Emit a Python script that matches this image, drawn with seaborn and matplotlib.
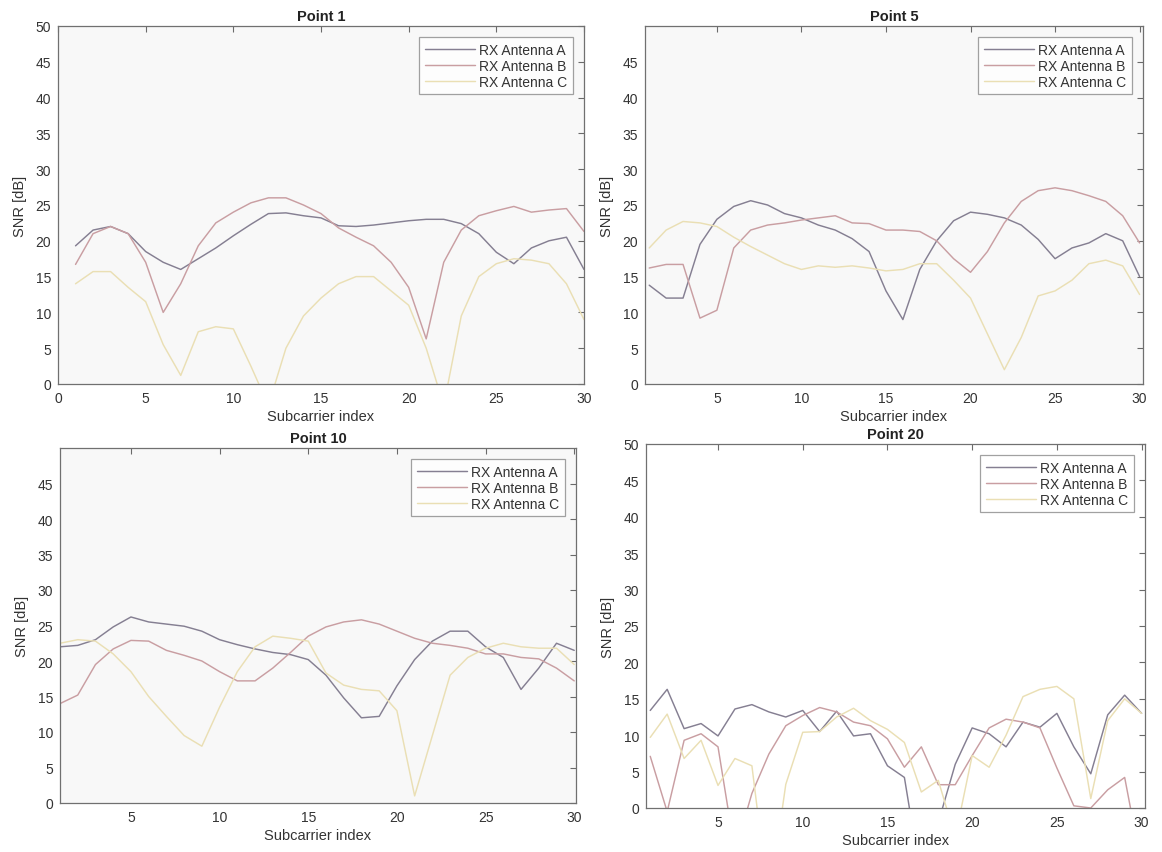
import numpy as np
import pandas as pd
import matplotlib
matplotlib.use("Agg")
import matplotlib.pyplot as plt
import seaborn as sns

# Subcarrier indices shared by every panel
subcarriers = list(range(1, 31))
antenna_labels = ["RX Antenna A", "RX Antenna B", "RX Antenna C"]

# SNR [dB] per antenna, measurement point 1
p1_a = [19.3, 21.5, 22.0, 21.0, 18.5, 17.0, 16.0, 17.5, 19.0, 20.7, 22.3, 23.8, 23.9, 23.5, 23.2,
        22.1, 22.0, 22.2, 22.5, 22.8, 23.0, 23.0, 22.4, 21.0, 18.4, 16.8, 19.0, 20.0, 20.5, 16.0]
p1_b = [16.7, 21.0, 22.0, 21.0, 17.0, 10.0, 14.0, 19.3, 22.5, 24.0, 25.3, 26.0, 26.0, 25.0, 23.8,
        21.8, 20.5, 19.3, 17.0, 13.5, 6.3, 17.0, 21.5, 23.5, 24.2, 24.8, 24.0, 24.3, 24.5, 21.3]
p1_c = [14.0, 15.7, 15.7, 13.5, 11.5, 5.5, 1.2, 7.3, 8.0, 7.7, 2.5, -3.0, 5.0, 9.5, 12.0,
        14.0, 15.0, 15.0, 13.0, 11.0, 5.0, -3.0, 9.5, 15.0, 16.8, 17.5, 17.3, 16.8, 14.0, 9.0]

# Measurement point 5
p5_a = [13.8, 12.0, 12.0, 19.5, 23.0, 24.8, 25.6, 25.0, 23.8, 23.2, 22.2, 21.5, 20.3, 18.5, 13.0,
        9.0, 16.0, 20.0, 22.8, 24.0, 23.7, 23.2, 22.2, 20.2, 17.5, 19.0, 19.7, 21.0, 20.0, 15.0]
p5_b = [16.2, 16.7, 16.7, 9.2, 10.3, 19.0, 21.5, 22.2, 22.5, 22.9, 23.2, 23.5, 22.5, 22.4, 21.5,
        21.5, 21.3, 20.0, 17.5, 15.6, 18.5, 22.5, 25.5, 27.0, 27.4, 27.0, 26.3, 25.5, 23.5, 19.7]
p5_c = [19.0, 21.5, 22.7, 22.5, 22.0, 20.5, 19.2, 18.0, 16.8, 16.0, 16.5, 16.3, 16.5, 16.2, 15.8,
        16.0, 16.8, 16.8, 14.5, 12.0, 7.0, 2.0, 6.5, 12.3, 13.0, 14.5, 16.8, 17.3, 16.5, 12.5]

# Measurement point 10
p10_a = [22.0, 22.2, 23.0, 24.8, 26.2, 25.5, 25.2, 24.9, 24.2, 23.0, 22.3, 21.7, 21.2, 20.9, 20.2,
         18.0, 14.8, 12.0, 12.2, 16.5, 20.2, 22.8, 24.2, 24.2, 22.0, 20.5, 16.0, 19.0, 22.5, 21.5]
p10_b = [14.0, 15.2, 19.5, 21.7, 22.9, 22.8, 21.5, 20.8, 20.0, 18.5, 17.2, 17.2, 19.0, 21.2, 23.5,
         24.8, 25.5, 25.8, 25.2, 24.2, 23.2, 22.5, 22.2, 21.8, 21.0, 21.0, 20.5, 20.3, 19.0, 17.2]
p10_c = [22.5, 23.0, 22.8, 21.0, 18.5, 15.0, 12.2, 9.5, 8.0, 13.5, 18.5, 22.0, 23.5, 23.2, 22.8,
         18.3, 16.6, 16.0, 15.8, 13.0, 1.0, 9.5, 18.0, 20.5, 21.8, 22.5, 22.0, 21.8, 21.8, 19.5]

# Measurement point 20
p20_a = [13.4, 16.3, 10.9, 11.6, 9.9, 13.6, 14.2, 13.2, 12.5, 13.4, 10.5, 13.3, 9.9, 10.2, 5.8,
         4.2, -10.0, -2.0, 6.0, 11.0, 10.2, 8.4, 11.8, 11.1, 13.0, 8.4, 4.7, 12.8, 15.5, 13.0]
p20_b = [7.1, -0.5, 9.3, 10.2, 8.4, -6.0, 2.0, 7.4, 11.3, 12.7, 13.8, 13.2, 11.8, 11.3, 9.5,
         5.6, 8.4, 3.2, 3.2, 7.2, 11.0, 12.2, 11.8, 11.0, 5.5, 0.3, 0.0, 2.5, 4.2, -8.0]
p20_c = [9.7, 12.9, 6.8, 9.3, 3.1, 6.8, 5.8, -13.0, 3.25, 10.4, 10.5, 12.5, 13.7, 12.0, 10.8,
         9.0, 2.2, 3.8, -4.0, 7.2, 5.6, 10.0, 15.3, 16.3, 16.7, 15.0, 1.3, 12.0, 15.0, 13.0]

point_titles = ["Point 1", "Point 5", "Point 10", "Point 20"]

palette = {"RX Antenna A": "#857f92", "RX Antenna B": "#c99ea2", "RX Antenna C": "#eadfb4"}

sns.set_style("white")
plt.rcParams["font.family"] = ["Liberation Sans", "DejaVu Sans"]

W, H = 1162, 853
fig = plt.figure(figsize=(W / 100, H / 100), dpi=100)
fig.patch.set_facecolor("white")


def px_axes(left, right, top, bottom):
    return fig.add_axes([left / W, 1 - bottom / H, (right - left) / W, (bottom - top) / H])


panels = [
    (px_axes(58, 584, 27, 385), p1_a, p1_b, p1_c, (0, 30), list(range(0, 31, 5)), list(range(0, 51, 5)), "#f8f8f8"),
    (px_axes(645, 1143, 27, 385), p5_a, p5_b, p5_c, (0.75, 30.2), list(range(5, 31, 5)), list(range(0, 46, 5)), "#f8f8f8"),
    (px_axes(60, 576, 449, 804), p10_a, p10_b, p10_c, (1, 30.1), list(range(5, 31, 5)), list(range(0, 46, 5)), "#f8f8f8"),
    (px_axes(646, 1145, 445, 809), p20_a, p20_b, p20_c, (0.75, 30.2), list(range(5, 31, 5)), list(range(0, 51, 5)), "#ffffff"),
]

for (ax, a, b, c, xlim, xticks, yticks, face), title in zip(panels, point_titles):
    df = pd.DataFrame({
        "Subcarrier": subcarriers * 3,
        "SNR": a + b + c,
        "Antenna": [antenna_labels[0]] * 30 + [antenna_labels[1]] * 30 + [antenna_labels[2]] * 30,
    })
    sns.lineplot(data=df, x="Subcarrier", y="SNR", hue="Antenna", hue_order=antenna_labels,
                 palette=palette, linewidth=1.05, ax=ax)
    ax.set_facecolor(face)
    ax.set_xlim(*xlim)
    ax.set_ylim(0, 50)
    ax.set_xticks(xticks)
    ax.set_yticks(yticks)
    ax.tick_params(direction="in", top=True, right=True, length=4, width=0.8,
                   color="#6a6a6a", labelsize=10, labelcolor="#333333", pad=5)
    for sp in ax.spines.values():
        sp.set_color("#707070")
        sp.set_linewidth(0.9)
    ax.set_xlabel("Subcarrier index", fontsize=10.5, color="#333333", labelpad=3)
    ax.set_ylabel("SNR [dB]", fontsize=10.5, color="#333333", labelpad=6)
    ax.set_title(title, fontsize=10.5, fontweight="bold", color="#222222", pad=4)
    handles, labels = ax.get_legend_handles_labels()
    leg = ax.legend(handles, labels, loc="upper right", fontsize=10, handlelength=3.6,
                    frameon=True, fancybox=False, borderaxespad=0.8, labelspacing=0.15,
                    handletextpad=0.3, borderpad=0.4)
    leg.get_frame().set_edgecolor("#8a8a8a")
    leg.get_frame().set_linewidth(0.9)
    leg.get_frame().set_facecolor("white")
    for t in leg.get_texts():
        t.set_color("#333333")

fig.savefig("out.png", dpi=100)
